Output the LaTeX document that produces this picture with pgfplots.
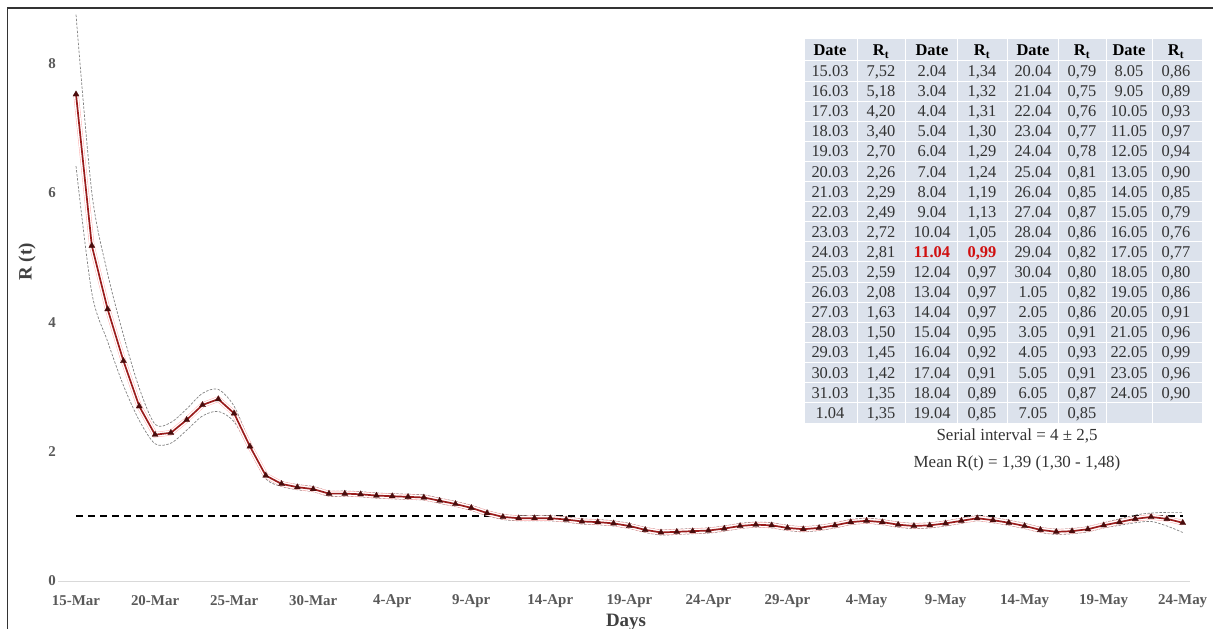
\documentclass[border=0pt]{standalone}
\usepackage{fontspec}
\setmainfont{Liberation Serif}
\usepackage{pgfplots}
\pgfplotsset{compat=1.18}
\usepackage{pgfplotstable}

\definecolor{rline}{HTML}{9A1C1C}
\definecolor{rmark}{HTML}{4A0C0C}
\definecolor{ticktext}{HTML}{595959}
\definecolor{tblbg}{HTML}{DCE2EC}
\definecolor{tbltext}{HTML}{333333}
\definecolor{hlred}{HTML}{D01010}

% Daily reproduction number with lower/upper confidence bounds
% (day 0 = 15 March)
\pgfplotstableread{
day R lo up
0 7.52 6.41 8.75
1 5.18 4.45 6.00
2 4.20 3.70 4.75
3 3.40 3.02 3.80
4 2.70 2.48 2.98
5 2.26 2.12 2.42
6 2.29 2.13 2.45
7 2.49 2.33 2.66
8 2.72 2.55 2.90
9 2.81 2.62 2.96
10 2.59 2.46 2.70
11 2.08 2.02 2.14
12 1.63 1.58 1.67
13 1.50 1.46 1.54
14 1.45 1.41 1.49
15 1.42 1.38 1.46
16 1.35 1.31 1.39
17 1.35 1.31 1.39
18 1.34 1.30 1.38
19 1.32 1.28 1.36
20 1.31 1.27 1.35
21 1.30 1.26 1.34
22 1.29 1.25 1.33
23 1.24 1.20 1.28
24 1.19 1.15 1.23
25 1.13 1.09 1.17
26 1.05 1.01 1.09
27 0.99 0.95 1.03
28 0.97 0.93 1.01
29 0.97 0.93 1.01
30 0.97 0.93 1.01
31 0.95 0.91 0.99
32 0.92 0.88 0.96
33 0.91 0.87 0.95
34 0.89 0.85 0.93
35 0.85 0.81 0.89
36 0.79 0.75 0.83
37 0.75 0.71 0.79
38 0.76 0.72 0.80
39 0.77 0.73 0.81
40 0.78 0.74 0.82
41 0.81 0.77 0.85
42 0.85 0.81 0.89
43 0.87 0.83 0.91
44 0.86 0.82 0.90
45 0.82 0.78 0.86
46 0.80 0.76 0.84
47 0.82 0.78 0.86
48 0.86 0.82 0.90
49 0.91 0.87 0.95
50 0.93 0.89 0.97
51 0.91 0.87 0.95
52 0.87 0.83 0.91
53 0.85 0.81 0.89
54 0.86 0.82 0.90
55 0.89 0.85 0.93
56 0.93 0.89 0.97
57 0.97 0.93 1.01
58 0.94 0.90 0.98
59 0.90 0.86 0.94
60 0.85 0.81 0.89
61 0.79 0.75 0.83
62 0.76 0.72 0.80
63 0.77 0.73 0.81
64 0.80 0.76 0.84
65 0.86 0.82 0.90
66 0.91 0.86 0.96
67 0.96 0.90 1.02
68 0.99 0.92 1.05
69 0.96 0.85 1.06
70 0.90 0.75 1.06
}\rtdata

\newcommand{\hl}[1]{\textcolor{hlred}{\bfseries #1}}

\begin{document}
\begin{tikzpicture}
\path[use as bounding box] (0,0) rectangle (1213bp,629bp);

% frame
\draw[line width=1.5bp, black!80] (7.5bp,0) -- (7.5bp,621bp) -- (1213bp,621bp);

\begin{axis}[
  at={(58bp,48bp)}, anchor=south west,
  scale only axis, width=1131.7bp, height=576bp,
  xmin=-1.14, xmax=70.44, ymin=0, ymax=8.9,
  axis x line*=bottom, axis y line*=left,
  x axis line style={draw=black!15, line width=0.8bp, -},
  y axis line style={draw=none},
  major tick length=0pt,
  xtick={0,5,...,70},
  xticklabels={15-Mar,20-Mar,25-Mar,30-Mar,4-Apr,9-Apr,14-Apr,19-Apr,24-Apr,29-Apr,4-May,9-May,14-May,19-May,24-May},
  ytick={0,2,4,6,8},
  /pgf/number format/assume math mode=true,
  tick label style={font=\fontsize{15}{17}\selectfont\bfseries, text=ticktext},
  xticklabel style={anchor=center, yshift=-20bp},
  yticklabel style={anchor=center, xshift=-6bp},
  clip=false,
]
% reference level R = 1
\addplot[black, line width=1.6bp, dash pattern=on 7bp off 5bp] coordinates {(0,1) (70,1)};
% confidence bounds
\addplot[gray, line width=0.7bp, dash pattern=on 2.5bp off 1.5bp, smooth, tension=0.5] table[x=day, y=up] {\rtdata};
\addplot[gray, line width=0.7bp, dash pattern=on 2.5bp off 1.5bp, smooth, tension=0.5] table[x=day, y=lo] {\rtdata};
% faint halo around the estimate
\addplot[draw=red!35, line width=0.4bp, double=white, double distance=4.5bp] table[x=day, y=R] {\rtdata};
% R(t) estimate
\addplot[rline, line width=1.7bp, mark=triangle*, mark size=3.5bp,
  mark options={fill=rmark, draw=rmark, line width=0.3bp}] table[x=day, y=R] {\rtdata};
\end{axis}

% axis titles
\node[rotate=90, font=\fontsize{19}{21}\selectfont\bfseries, text=black!75] at (27bp,367bp) {R (t)};
\node[font=\fontsize{19}{21}\selectfont\bfseries, text=black!75] at (626bp,7bp) {Days};

% table of daily values
\fill[tblbg] (805bp,590bp) rectangle (1202bp,206bp);
\foreach \x in {857,905,957,1007,1058,1106,1152}
  \draw[white, line width=1bp] (\x bp,590bp) -- (\x bp,206bp);
\foreach \k in {0,...,17}
  \draw[white, line width=1bp] (805bp,{(568-20.1*\k)*1bp}) -- (1202bp,{(568-20.1*\k)*1bp});

\begin{scope}[every node/.style={anchor=base, inner sep=0pt, font=\fontsize{16.5}{18}\selectfont}]
\foreach \x/\t in {830/Date,881/R\textsubscript{t},932/Date,982/R\textsubscript{t},1033/Date,1082/R\textsubscript{t},1129/Date,1176/R\textsubscript{t}}
  \node[font=\fontsize{16.5}{18}\selectfont\bfseries] at (\x bp,573bp) {\t};
\foreach \a/\b/\c/\d/\e/\f/\g/\h [count=\i] in {
15.03/7{,}52/2.04/1{,}34/20.04/0{,}79/8.05/0{,}86,
16.03/5{,}18/3.04/1{,}32/21.04/0{,}75/9.05/0{,}89,
17.03/4{,}20/4.04/1{,}31/22.04/0{,}76/10.05/0{,}93,
18.03/3{,}40/5.04/1{,}30/23.04/0{,}77/11.05/0{,}97,
19.03/2{,}70/6.04/1{,}29/24.04/0{,}78/12.05/0{,}94,
20.03/2{,}26/7.04/1{,}24/25.04/0{,}81/13.05/0{,}90,
21.03/2{,}29/8.04/1{,}19/26.04/0{,}85/14.05/0{,}85,
22.03/2{,}49/9.04/1{,}13/27.04/0{,}87/15.05/0{,}79,
23.03/2{,}72/10.04/1{,}05/28.04/0{,}86/16.05/0{,}76,
24.03/2{,}81/\hl{11.04}/\hl{0{,}99}/29.04/0{,}82/17.05/0{,}77,
25.03/2{,}59/12.04/0{,}97/30.04/0{,}80/18.05/0{,}80,
26.03/2{,}08/13.04/0{,}97/1.05/0{,}82/19.05/0{,}86,
27.03/1{,}63/14.04/0{,}97/2.05/0{,}86/20.05/0{,}91,
28.03/1{,}50/15.04/0{,}95/3.05/0{,}91/21.05/0{,}96,
29.03/1{,}45/16.04/0{,}92/4.05/0{,}93/22.05/0{,}99,
30.03/1{,}42/17.04/0{,}91/5.05/0{,}91/23.05/0{,}96,
31.03/1{,}35/18.04/0{,}89/6.05/0{,}87/24.05/0{,}90,
1.04/1{,}35/19.04/0{,}85/7.05/0{,}85/{}/{}}
{
  \pgfmathsetmacro{\yy}{572.5-20.1*\i}
  \node[text=tbltext] at (830bp,\yy bp) {\a};
  \node[text=tbltext] at (881bp,\yy bp) {\b};
  \node[text=tbltext] at (932bp,\yy bp) {\c};
  \node[text=tbltext] at (982bp,\yy bp) {\d};
  \node[text=tbltext] at (1033bp,\yy bp) {\e};
  \node[text=tbltext] at (1082bp,\yy bp) {\f};
  \node[text=tbltext] at (1129bp,\yy bp) {\g};
  \node[text=tbltext] at (1176bp,\yy bp) {\h};
}
\node[text=tbltext, font=\fontsize{17}{19}\selectfont] at (1017bp,188bp) {Serial interval = 4 ± 2,5};
\node[text=tbltext, font=\fontsize{17}{19}\selectfont] at (1017bp,161bp) {Mean R(t) = 1,39 (1,30 - 1,48)};
\end{scope}
\end{tikzpicture}
\end{document}
